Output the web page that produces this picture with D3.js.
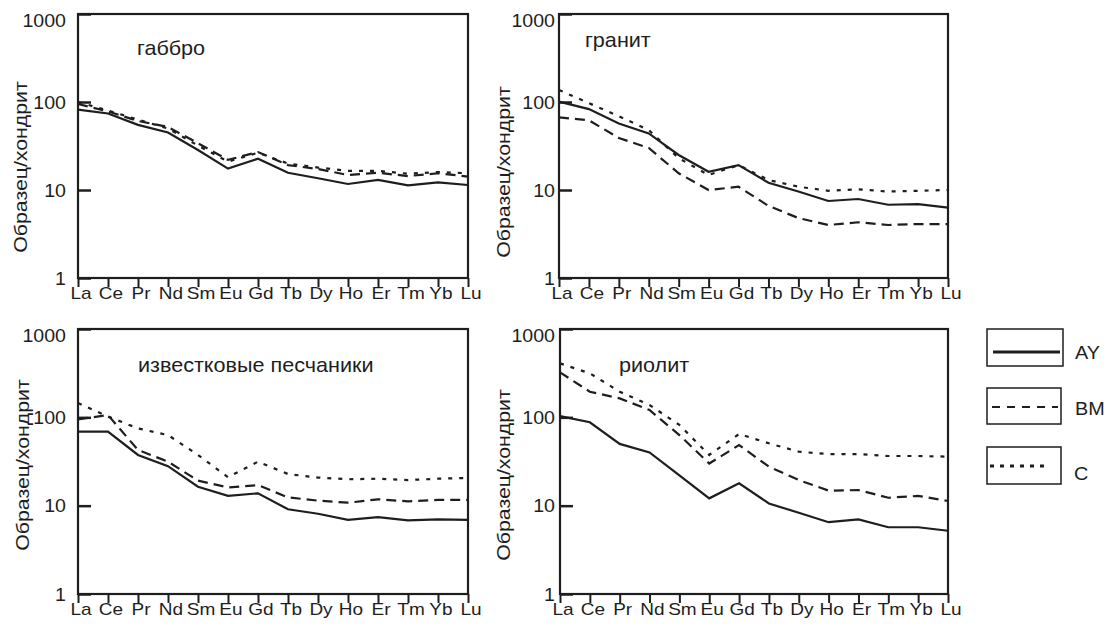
<!DOCTYPE html>
<html><head><meta charset="utf-8">
<script src="https://cdn.jsdelivr.net/npm/d3@7"></script>
<style>body{margin:0;background:#fff}svg{display:block}</style>
</head><body>
<script>
const elements = ["La","Ce","Pr","Nd","Sm","Eu","Gd","Tb","Dy","Ho","Er","Tm","Yb","Lu"];
const yTicks = [1, 10, 100, 1000];
const seriesNames = ["AY","BM","C"];
const panelTitles = ["габбро","гранит","известковые песчаники","риолит"];
const yTitle = "Образец/хондрит";

const gabbroAY = [82, 74, 55, 45, 28.5, 17.5, 22.7, 15.7, 13.6, 11.7, 13, 11.3, 12.2, 11.4];
const gabbroBM = [95, 78, 61, 52, 34, 22, 27, 19.2, 17.3, 14.8, 15.7, 14.4, 15.5, 14.2];
const gabbroC  = [100, 80, 63, 50, 32, 21, 26.5, 20, 18, 16.5, 16.5, 15.3, 16, 15.5];

const graniteAY = [101, 83, 57, 44, 25, 16.1, 19.2, 12.1, 9.6, 7.5, 7.9, 6.8, 6.9, 6.3];
const graniteBM = [67, 62, 39, 30, 15.5, 10, 10.9, 6.6, 4.8, 4.0, 4.3, 4.0, 4.1, 4.1];
const graniteC  = [137, 97, 69, 48, 23, 14.8, 19.2, 13, 10.9, 9.8, 10.2, 9.6, 9.8, 10];

const sandAY = [69, 69, 37.5, 28, 16.4, 12.9, 13.8, 9.1, 8.1, 6.9, 7.4, 6.8, 7.0, 6.9];
const sandBM = [95, 106, 42.7, 31.5, 19.2, 16.1, 17.1, 12.4, 11.4, 10.8, 11.8, 11.2, 11.6, 11.6];
const sandC  = [145, 102, 75, 63, 37.5, 21, 31.5, 22.8, 20.8, 19.9, 20.2, 19.5, 20.2, 20.6];

const rhyAY = [103, 88, 50, 40, 22, 12.1, 17.9, 10.6, 8.3, 6.5, 7.0, 5.7, 5.7, 5.2];
const rhyBM = [323, 195, 164, 121, 63, 30, 48.6, 27.6, 19.5, 14.8, 15, 12.3, 12.9, 11.3];
const rhyC  = [408, 315, 195, 138, 82, 37.5, 64.8, 50.8, 40.8, 38.4, 38.4, 36.5, 36.5, 35.9];

const panelData = [
  [gabbroAY, gabbroBM, gabbroC],
  [graniteAY, graniteBM, graniteC],
  [sandAY, sandBM, sandC],
  [rhyAY, rhyBM, rhyC]
];

// layout
const W = 1111, H = 626;
const INK = "#1e1e1e";
const FONT = "'Liberation Sans', Arial, sans-serif";
const SX = 1.12;
const panels = [
  {l:78,  r:468, t:14,  b:278, lblRight:66,  titleX:137, titleY:55,  yt:[21,167]},
  {l:559, r:948, t:14,  b:278, lblRight:555, titleX:585, titleY:47,  yt:[504,172]},
  {l:78,  r:468, t:329, b:594, lblRight:66,  titleX:138, titleY:372, yt:[23,465]},
  {l:560, r:948, t:329, b:594, lblRight:555, titleX:619, titleY:372, yt:[504,475]}
];
const dashes = [null, "10,6", "4,7"];

const svg = d3.select("body").append("svg").attr("width", W).attr("height", H);

function stext(g, str, x, y, size, anchor, rot, sx) {
  return g.append("text")
    .attr("transform", `translate(${x},${y}) rotate(${rot||0}) scale(${sx||SX},1)`)
    .attr("text-anchor", anchor || "start")
    .attr("font-family", FONT).attr("font-size", size).attr("fill", INK)
    .text(str);
}

panels.forEach((p, i) => {
  const g = svg.append("g");
  const x = d3.scalePoint().domain(elements).range([p.l, p.r]);
  const y = d3.scaleLog().domain([1, 1000]).range([p.b, p.t]);

  const line = d3.line().x((d, k) => x(elements[k])).y(d => y(d));
  panelData[i].forEach((vals, s) => {
    g.append("path").datum(vals).attr("d", line)
      .attr("fill", "none").attr("stroke", INK).attr("stroke-width", 2.2)
      .attr("stroke-dasharray", dashes[s]).attr("stroke-linejoin", "miter");
  });

  g.append("rect").attr("x", p.l).attr("y", p.t).attr("width", p.r - p.l).attr("height", p.b - p.t)
    .attr("fill", "none").attr("stroke", INK).attr("stroke-width", 2.2);

  const xa = g.append("g").attr("transform", `translate(0,${p.b})`)
    .call(d3.axisBottom(x).tickSize(9).tickFormat(""));
  xa.select(".domain").remove();
  xa.selectAll("line").attr("stroke", INK).attr("stroke-width", 2);
  elements.forEach(e => stext(g, e, x(e) + 3, p.b + 21, 17, "middle", 0, 1.12));

  const ya = g.append("g").attr("transform", `translate(${p.l},0)`)
    .call(d3.axisRight(y).tickValues(yTicks).tickSize(13).tickFormat(""));
  ya.select(".domain").remove();
  ya.selectAll("line").attr("stroke", INK).attr("stroke-width", 2.5);
  yTicks.forEach(v => {
    const yy = v === 1000 ? y(v) + 13 : y(v) + 6.5;
    stext(g, String(v), p.lblRight, yy, 17.5, "end", 0, 1.12);
  });

  stext(g, yTitle, p.yt[0], p.yt[1], 18.5, "middle", -90, 1.15).attr("dy", "0.35em");

  stext(g, panelTitles[i], p.titleX, p.titleY, 20, "start", 0, 1.08);
});

const legend = [
  {box:[987,329,76,37], ly:352, x0:993, x1:1060, w:3, dash:null, tx:1075, ty:359},
  {box:[987,388,74,36], ly:407, x0:992, x1:1058, w:2, dash:"8,7", tx:1075, ty:415},
  {box:[987,447,74,37], ly:466, x0:990, x1:1048, w:3, dash:"4,6", tx:1074, ty:480}
];
legend.forEach((L, k) => {
  svg.append("rect").attr("x", L.box[0]).attr("y", L.box[1]).attr("width", L.box[2]).attr("height", L.box[3])
    .attr("fill", "none").attr("stroke", INK).attr("stroke-width", 1.5);
  svg.append("line").attr("x1", L.x0).attr("x2", L.x1).attr("y1", L.ly).attr("y2", L.ly)
    .attr("stroke", INK).attr("stroke-width", L.w).attr("stroke-dasharray", L.dash);
  stext(svg, seriesNames[k], L.tx, L.ty, 18, "start", 0, 1.1);
});
</script>
</body></html>
